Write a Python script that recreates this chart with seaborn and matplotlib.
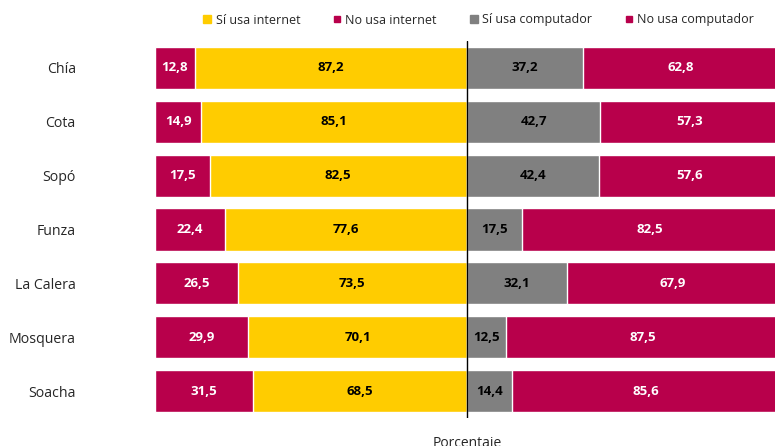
import pandas as pd
import seaborn as sns
import matplotlib.pyplot as plt
from matplotlib.lines import Line2D

municipios = ['Chía', 'Cota', 'Sopó', 'Funza', 'La Calera', 'Mosquera', 'Soacha']
si_internet = [87.2, 85.1, 82.5, 77.6, 73.5, 70.1, 68.5]
no_internet = [12.8, 14.9, 17.5, 22.4, 26.5, 29.9, 31.5]
si_computador = [37.2, 42.7, 42.4, 17.5, 32.1, 12.5, 14.4]
no_computador = [62.8, 57.3, 57.6, 82.5, 67.9, 87.5, 85.6]

YELLOW = '#FFCC00'
CRIMSON = '#B8004B'
GRAY = '#808080'

sns.set_theme(style='white')
plt.rcParams['font.family'] = ['Open Sans', 'DejaVu Sans']

df = pd.DataFrame({
    'municipio': municipios,
    'si_int': si_internet,
    'no_int': no_internet,
    'si_comp': si_computador,
    'no_comp': no_computador,
})
# stacked totals for layered bars (left side negative)
df['left_total'] = -(df['si_int'] + df['no_int'])
df['left_si'] = -df['si_int']
df['right_total'] = df['si_comp'] + df['no_comp']

fig = plt.figure(figsize=(7.75, 4.46), dpi=100)
ax = fig.add_axes([155 / 775, 28 / 446, 624 / 775, 377 / 446])

w = 0.78
kw = dict(orient='h', width=w, edgecolor='white', linewidth=1, ax=ax)
sns.barplot(data=df, x='left_total', y='municipio', color=CRIMSON, saturation=1, **kw)
sns.barplot(data=df, x='left_si', y='municipio', color=YELLOW, saturation=1, **kw)
sns.barplot(data=df, x='right_total', y='municipio', color=CRIMSON, saturation=1, **kw)
sns.barplot(data=df, x='si_comp', y='municipio', color=GRAY, saturation=1, **kw)

ax.axvline(0, color='black', lw=1)
ax.set_xlim(-100, 100)
ax.set_ylim(6.5, -0.5)
ax.set_xlabel('')
ax.set_ylabel('')
ax.set_xticks([])
sns.despine(ax=ax, left=True, bottom=True)
ax.tick_params(axis='y', length=0, pad=57, labelsize=10.2)
for lbl in ax.get_yticklabels():
    lbl.set_horizontalalignment('right')

fmt = lambda v: f'{v:.1f}'.replace('.', ',')
for i, r in df.iterrows():
    tk = dict(ha='center', va='center', fontsize=9.5, fontweight='bold')
    ax.text(-100 + r['no_int'] / 2, i, fmt(r['no_int']), color='white', **tk)
    ax.text(-r['si_int'] / 2, i, fmt(r['si_int']), color='black', **tk)
    ax.text(r['si_comp'] / 2, i, fmt(r['si_comp']), color='black', **tk)
    ax.text(r['si_comp'] + r['no_comp'] / 2, i, fmt(r['no_comp']), color='white', **tk)

handles = [
    Line2D([], [], marker='s', ls='', color=YELLOW, markersize=6),
    Line2D([], [], marker='s', ls='', color=CRIMSON, markersize=5),
    Line2D([], [], marker='s', ls='', color=GRAY, markersize=6),
    Line2D([], [], marker='s', ls='', color=CRIMSON, markersize=5),
]
labels = ['Sí usa internet', 'No usa internet', 'Sí usa computador', 'No usa computador']
fig.legend(handles, labels, ncol=4, loc='center', bbox_to_anchor=(478 / 775, 1 - 20 / 446),
           frameon=False, fontsize=9, handletextpad=0.25, handlelength=0.8,
           columnspacing=2.55)

fig.text(467 / 775, 1 - 436 / 446, 'Porcentaje', ha='center', va='top', fontsize=10)

fig.savefig('out.png', dpi=100)
